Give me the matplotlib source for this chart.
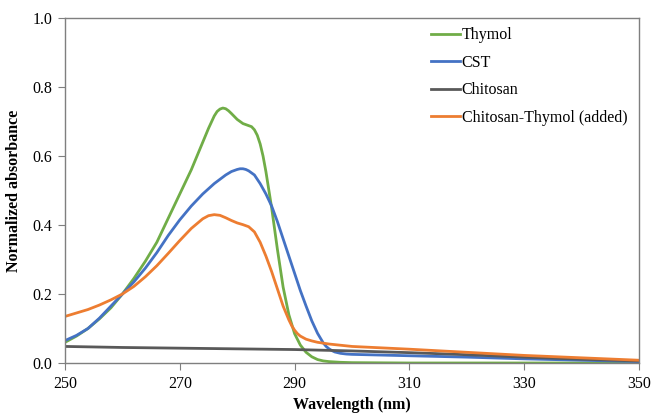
import matplotlib.pyplot as plt
import numpy as np

plt.rcParams['font.family'] = ['Liberation Serif', 'DejaVu Serif']

# Thymol
wl_thymol = [250, 252, 254, 256, 258, 260, 262, 264, 266, 268, 270, 272, 274, 275,
             276, 276.5, 277, 277.5, 278, 278.5, 279, 280, 281, 282, 282.5, 283, 283.5,
             284, 284.5, 285, 286, 287, 288, 289, 290, 291, 292, 293, 294, 295, 296,
             298, 300, 310, 350]
ab_thymol = [0.060, 0.078, 0.100, 0.128, 0.160, 0.200, 0.245, 0.295, 0.350, 0.420,
             0.490, 0.560, 0.640, 0.680, 0.716, 0.729, 0.736, 0.739, 0.737, 0.731,
             0.723, 0.706, 0.694, 0.688, 0.685, 0.676, 0.660, 0.635, 0.600, 0.555,
             0.450, 0.330, 0.220, 0.140, 0.085, 0.052, 0.031, 0.018, 0.010, 0.006,
             0.004, 0.002, 0.001, 0.000, 0.000]

# CST
wl_cst = [250, 252, 254, 256, 258, 260, 262, 264, 266, 268, 270, 272, 274, 276, 278,
          279, 280, 280.5, 281, 281.5, 282, 283, 284, 285, 286, 287, 288, 289, 290,
          291, 292, 293, 294, 295, 295.5, 296, 296.5, 297, 298, 299, 300, 310, 320,
          330, 340, 350]
ab_cst = [0.065, 0.080, 0.100, 0.130, 0.165, 0.200, 0.235, 0.275, 0.320, 0.370,
          0.415, 0.455, 0.490, 0.520, 0.545, 0.555, 0.561, 0.563, 0.563, 0.561,
          0.557, 0.545, 0.520, 0.490, 0.455, 0.410, 0.360, 0.310, 0.260, 0.210,
          0.165, 0.122, 0.086, 0.058, 0.048, 0.041, 0.036, 0.032, 0.028, 0.026,
          0.025, 0.021, 0.017, 0.012, 0.008, 0.004]

# Chitosan
wl_chit = [250, 260, 270, 280, 290, 300, 310, 320, 330, 340, 350]
ab_chit = [0.048, 0.045, 0.043, 0.041, 0.039, 0.035, 0.030, 0.024, 0.017, 0.011, 0.006]

# Chitosan-Thymol (added)
wl_ct = [250, 252, 254, 256, 258, 260, 262, 264, 266, 268, 270, 272, 274, 275, 276,
         277, 278, 279, 280, 281, 282, 283, 284, 285, 286, 287, 288, 289, 289.5, 290,
         290.5, 291, 292, 293, 294, 296, 300, 310, 320, 330, 340, 350]
ab_ct = [0.135, 0.145, 0.155, 0.168, 0.183, 0.200, 0.222, 0.250, 0.282, 0.318,
         0.355, 0.390, 0.418, 0.427, 0.430, 0.428, 0.421, 0.413, 0.406, 0.401,
         0.395, 0.380, 0.350, 0.310, 0.265, 0.215, 0.165, 0.125, 0.108, 0.095,
         0.085, 0.078, 0.069, 0.064, 0.060, 0.055, 0.048, 0.040, 0.031, 0.022,
         0.015, 0.008]

fig = plt.figure(figsize=(6.51, 4.15), dpi=100)
ax = fig.add_axes([65/651, 1-363/415, (639-65)/651, (363-18)/415])

lw = 2.0
ax.plot(wl_thymol, ab_thymol, color='#70AD47', lw=lw, label='Thymol')
ax.plot(wl_cst, ab_cst, color='#4472C4', lw=lw, label='CST')
ax.plot(wl_chit, ab_chit, color='#595959', lw=lw, label='Chitosan')
ax.plot(wl_ct, ab_ct, color='#ED7D31', lw=lw, label='Chitosan-Thymol (added)')

ax.set_xlim(250, 350)
ax.set_ylim(0, 1.0)
ax.set_xticks(np.arange(250, 351, 20))
ax.set_yticks(np.arange(0, 1.01, 0.2))
ax.set_yticklabels(['%.1f' % v for v in np.arange(0, 1.01, 0.2)])
ax.tick_params(labelsize=11.5, direction='out', length=5, color='#7f7f7f', pad=4)
for s in ax.spines.values():
    s.set_color('#7f7f7f')
    s.set_linewidth(1.0)

ax.set_xlabel('Wavelength (nm)', fontsize=11.5, fontweight='bold', labelpad=4)
ax.set_ylabel('Normalized absorbance', fontsize=11.5, fontweight='bold', labelpad=8)

ax.legend(loc='upper left', bbox_to_anchor=(425/651, 1-21/415),
          bbox_transform=fig.transFigure, frameon=False, fontsize=11.5,
          handlelength=1.8, handletextpad=0.1, labelspacing=0.72, borderaxespad=0)

fig.savefig('out.png', dpi=100)
